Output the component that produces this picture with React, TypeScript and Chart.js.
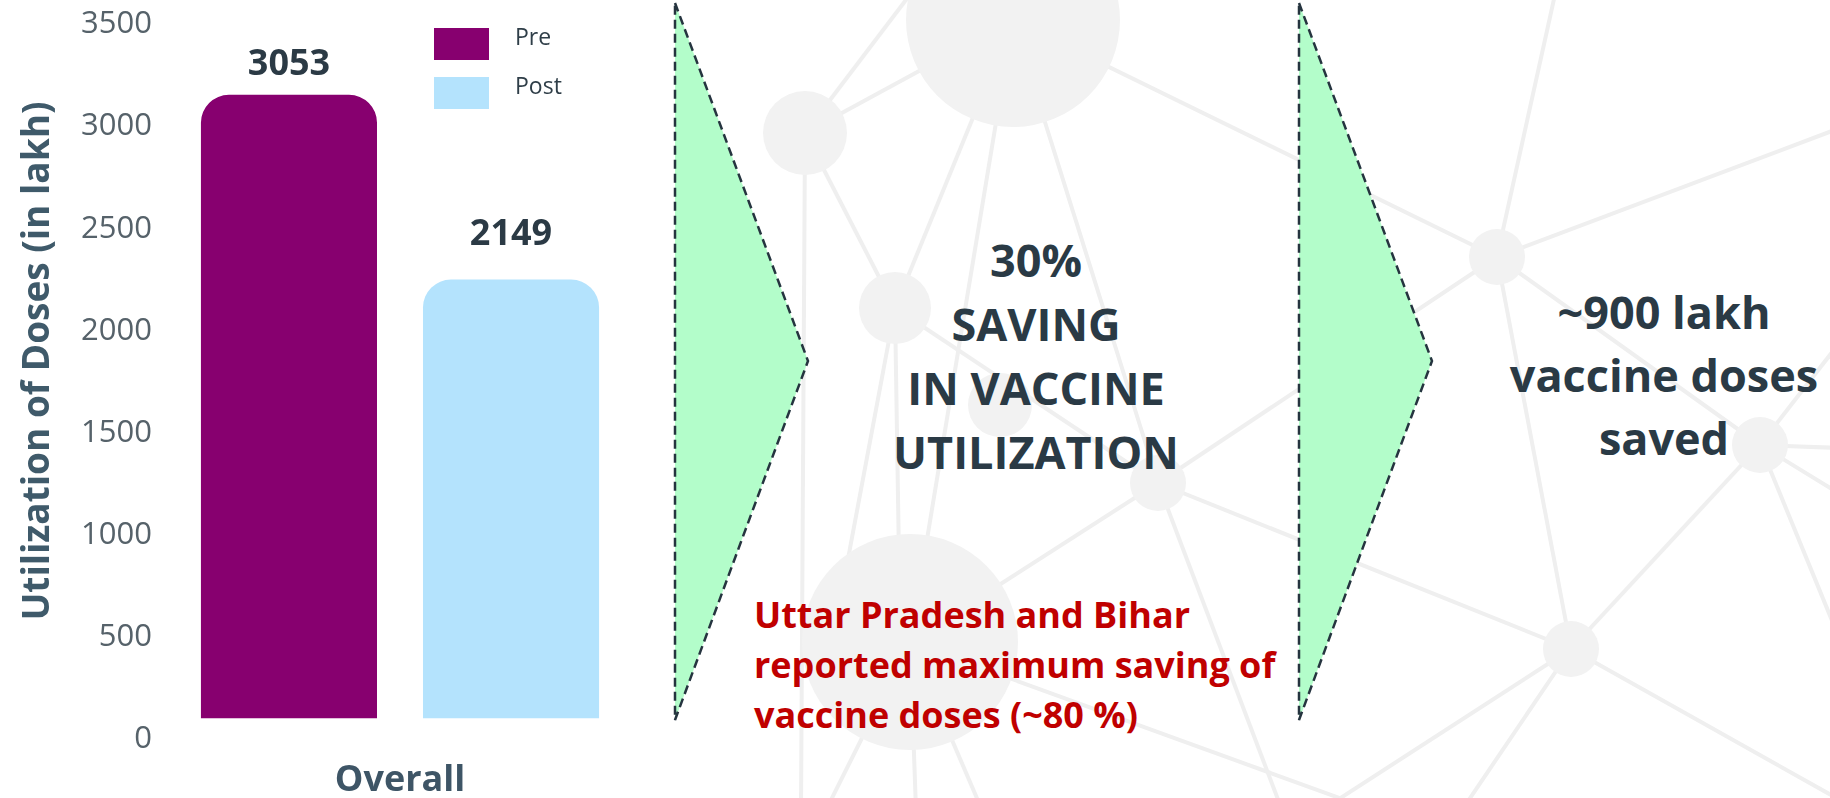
import React, { useEffect, useRef } from "react";
import { Chart, registerables } from "chart.js";

Chart.register(...registerables);

// ---- data ----
const categories = ["Overall"];
const seriesLabels = ["Pre", "Post"];
const preValues = [3053];
const postValues = [2149];
const yMin = 0;
const yMax = 3500;
const yStep = 500;
const yAxisTitle = "Utilization of Doses (in lakh)";
const savingLines = ["30%", "SAVING", "IN VACCINE", "UTILIZATION"];
const savedLines = ["~900 lakh", "vaccine doses", "saved"];
const noteLines = ["Uttar Pradesh and Bihar", "reported maximum saving of", "vaccine doses (~80 %)"];

// ---- styles ----
const FONT = '"Open Sans", "Noto Sans", sans-serif';
const seriesColors = ["#87006f", "#b4e3fd"];
const valueLabelGaps = [20, 35];

// decorative background network (pure decoration)
const bgNodes: [number, number, number][] = [
  [1013, 20, 107],
  [805, 133, 42],
  [895, 308, 36],
  [1000, 405, 32],
  [1158, 483, 28],
  [910, 642, 108],
  [1497, 257, 28],
  [1760, 445, 28],
  [1571, 649, 28],
];
const bgLinks: [number, number, number, number][] = [
  [805, 133, 915, -12],
  [805, 133, 1013, 20],
  [805, 133, 801, 810],
  [805, 133, 895, 308],
  [895, 308, 1013, 20],
  [895, 308, 899, 560],
  [895, 308, 845, 575],
  [910, 642, 1013, 20],
  [1013, 20, 1158, 483],
  [1158, 483, 1282, 810],
  [895, 308, 1158, 483],
  [1013, 20, 1497, 257],
  [1158, 483, 1497, 257],
  [1158, 483, 1571, 649],
  [910, 642, 1158, 483],
  [910, 642, 1400, 820],
  [910, 642, 826, 810],
  [910, 642, 916, 810],
  [910, 642, 982, 810],
  [1497, 257, 1556, -10],
  [1497, 257, 1840, 128],
  [1497, 257, 1760, 445],
  [1497, 257, 1571, 649],
  [1760, 445, 1840, 448],
  [1760, 445, 1840, 342],
  [1760, 445, 1840, 494],
  [1760, 445, 1840, 640],
  [1760, 445, 1571, 649],
  [1571, 649, 1322, 810],
  [1571, 649, 1462, 810],
  [1571, 649, 1840, 800],
];
const arrowShapes = [
  "675,3 808,361 675,720",
  "1299,3 1432,361 1299,720",
];

const valueLabelPlugin = {
  id: "valueLabels",
  afterDatasetsDraw(chart: any) {
    const ctx = chart.ctx;
    ctx.save();
    ctx.font = `bold 36px ${FONT}`;
    ctx.fillStyle = "#2b3a45";
    ctx.textAlign = "center";
    ctx.textBaseline = "alphabetic";
    chart.data.datasets.forEach((ds: any, di: number) => {
      const meta = chart.getDatasetMeta(di);
      meta.data.forEach((bar: any, i: number) => {
        const v = ds.data[i];
        ctx.fillText(String(v), bar.x, bar.y - valueLabelGaps[di]);
      });
    });
    ctx.restore();
  },
};

const boxLegendPlugin = {
  id: "boxLegend",
  afterDraw(chart: any) {
    const ctx = chart.ctx;
    const left = 434;
    const top = 28;
    const boxW = 55;
    const boxH = 32;
    const rowGap = 49;
    ctx.save();
    ctx.font = `23px ${FONT}`;
    ctx.textAlign = "left";
    ctx.textBaseline = "middle";
    chart.data.datasets.forEach((ds: any, i: number) => {
      const y = top + i * rowGap;
      ctx.fillStyle = ds.backgroundColor;
      ctx.fillRect(left, y, boxW, boxH);
      ctx.fillStyle = "#2f3e48";
      ctx.fillText(ds.label, left + 81, y + boxH / 2 - 6);
    });
    ctx.restore();
  },
};

function BarChart() {
  const ref = useRef<HTMLCanvasElement>(null);
  useEffect(() => {
    if (!ref.current) return;
    const chart = new Chart(ref.current, {
      type: "bar",
      data: {
        labels: categories,
        datasets: [
          {
            label: seriesLabels[0],
            data: preValues,
            backgroundColor: seriesColors[0],
            borderRadius: 28,
            categoryPercentage: 0.933,
            barPercentage: 0.793,
          },
          {
            label: seriesLabels[1],
            data: postValues,
            backgroundColor: seriesColors[1],
            borderRadius: 28,
            categoryPercentage: 0.933,
            barPercentage: 0.793,
          },
        ],
      },
      options: {
        responsive: false,
        animation: false,
        layout: { padding: { top: 3.5, left: 0, right: 0, bottom: 0 } },
        plugins: {
          legend: { display: false },
          tooltip: { enabled: false },
        },
        scales: {
          x: {
            grid: { display: false, drawTicks: false },
            border: { display: false },
            ticks: {
              font: { family: FONT, size: 36, weight: "bold" },
              color: "#3e5566",
              padding: 41,
            },
            afterFit: (s: any) => {
              s.height = 79.4;
              s.paddingLeft = 0;
              s.paddingRight = 0;
            },
          },
          y: {
            min: yMin,
            max: yMax,
            grid: { display: false, drawTicks: false },
            border: { display: false },
            ticks: {
              stepSize: yStep,
              font: { family: FONT, size: 31 },
              color: "#56626a",
              padding: 10,
              labelOffset: 21,
              callback: (v: any) => String(v),
            },
            title: {
              display: true,
              text: yAxisTitle,
              font: { family: FONT, size: 37, weight: "bold" },
              color: "#3f5a6a",
              padding: { top: 16, bottom: 0 },
            },
            afterFit: (s: any) => {
              s.width = 162;
              s.paddingTop = 0;
              s.paddingBottom = 0;
            },
          },
        },
      },
      plugins: [valueLabelPlugin, boxLegendPlugin],
    } as any);
    return () => chart.destroy();
  }, []);
  return (
    <canvas
      ref={ref}
      width={638}
      height={798}
      style={{ position: "absolute", left: 0, top: 0 }}
    />
  );
}

export default function App() {
  return (
    <div
      style={{
        position: "absolute",
        left: 0,
        top: 0,
        width: 1830,
        height: 798,
        overflow: "hidden",
        background: "#ffffff",
        fontFamily: FONT,
      }}
    >
      <svg
        width={1830}
        height={798}
        style={{ position: "absolute", left: 0, top: 0 }}
      >
        {bgLinks.map((l, i) => (
          <line key={"l" + i} x1={l[0]} y1={l[1]} x2={l[2]} y2={l[3]} stroke="#efefef" strokeWidth={4} />
        ))}
        {bgNodes.map((n, i) => (
          <circle key={"n" + i} cx={n[0]} cy={n[1]} r={n[2]} fill="#f2f2f2" />
        ))}
        {arrowShapes.map((p, i) => (
          <polygon
            key={"a" + i}
            points={p}
            fill="#b3fdca"
            stroke="#25343f"
            strokeWidth={2.5}
            strokeDasharray="9 5"
          />
        ))}
      </svg>
      <BarChart />
      <div
        style={{
          position: "absolute",
          left: 836,
          top: 227.5,
          width: 400,
          textAlign: "center",
          fontSize: 45,
          lineHeight: "64px",
          fontWeight: 700,
          color: "#2a3a45",
        }}
      >
        {savingLines.map((t, i) => (
          <div key={i}>{t}</div>
        ))}
      </div>
      <div
        style={{
          position: "absolute",
          left: 1464,
          top: 280,
          width: 400,
          textAlign: "center",
          fontSize: 45,
          lineHeight: "63px",
          fontWeight: 700,
          color: "#2a3a45",
        }}
      >
        {savedLines.map((t, i) => (
          <div key={i}>{t}</div>
        ))}
      </div>
      <div
        style={{
          position: "absolute",
          left: 754,
          top: 590,
          fontSize: 36,
          lineHeight: "50px",
          fontWeight: 700,
          color: "#c00000",
          whiteSpace: "nowrap",
        }}
      >
        {noteLines.map((t, i) => (
          <div key={i}>{t}</div>
        ))}
      </div>
    </div>
  );
}
